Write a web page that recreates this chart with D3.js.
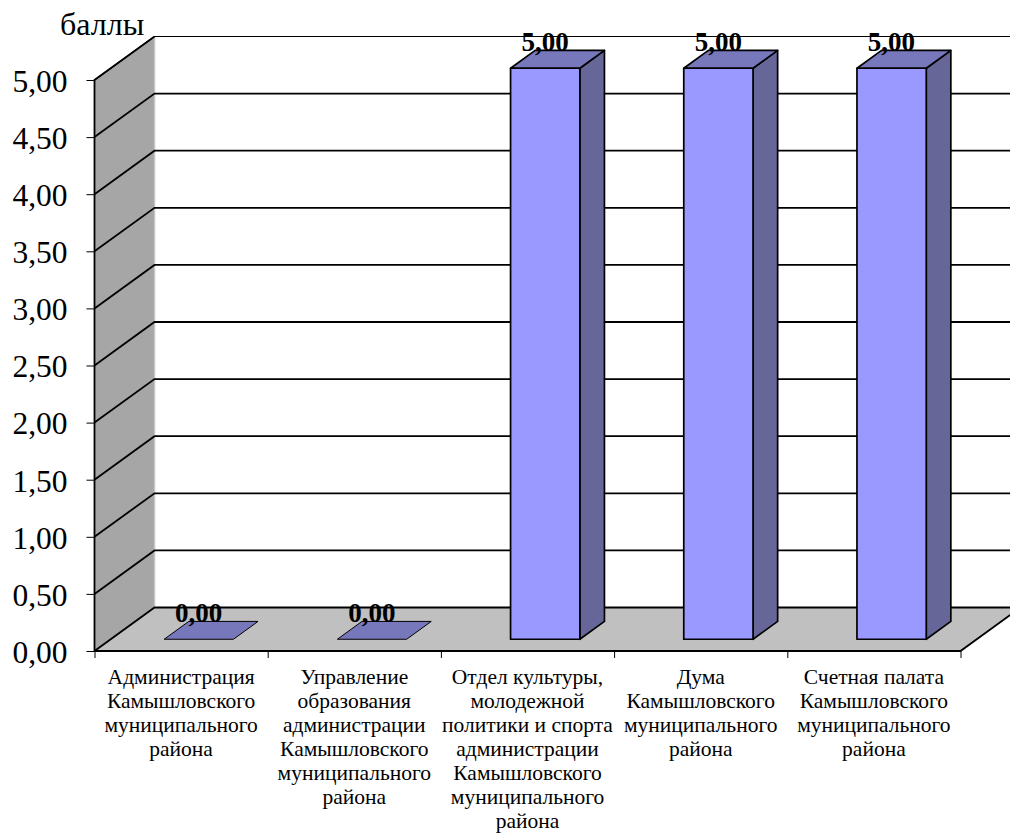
<!DOCTYPE html>
<html>
<head>
<meta charset="utf-8">
<script src="https://cdn.jsdelivr.net/npm/d3@7"></script>
<style>
html,body{margin:0;padding:0;background:#fff;overflow:hidden}
text{font-family:"Liberation Serif",serif;fill:#000}
</style>
</head>
<body>
<script>
var categories = [
  ['Администрация','Камышловского','муниципального','района'],
  ['Управление','образования','администрации','Камышловского','муниципального','района'],
  ['Отдел культуры,','молодежной','политики и спорта','администрации','Камышловского','муниципального','района'],
  ['Дума','Камышловского','муниципального','района'],
  ['Счетная палата','Камышловского','муниципального','района']
];
var values = [0,0,5,5,5];
var yTicks = [0,0.5,1,1.5,2,2.5,3,3.5,4,4.5,5];
var yTitle = 'баллы';

var svg = d3.select('body').append('svg').attr('width',1010).attr('height',834);

var y = d3.scaleLinear().domain([0,5]).range([651,80]);
var x = d3.scaleBand().domain(d3.range(categories.length)).range([94.5,960.5]).paddingInner(0.6).paddingOuter(0.3);
var xEdge = d3.scaleLinear().domain([0,categories.length]).range([94.5,960.5]);

// depth offset of the 3d box, 0 = front, 1 = back wall
var depthX = 60, depthY = -43.5;
function p(px,py,d){ return [px+depthX*d, py+depthY*d]; }
function poly(pts){ return 'M'+pts.map(function(q){return q.join(',');}).join('L')+'Z'; }
var barFront = 0.27, barBack = 0.68;

// wall
svg.append('path').attr('d',poly([p(94.5,y(0),0),p(94.5,y(5),0),p(94.5,y(5),1),p(94.5,y(0),1)])).attr('fill','#a6a6a6');
svg.append('line').attr('x1',154.5).attr('x2',154.5).attr('y1',y(5)+depthY).attr('y2',y(0)+depthY).attr('stroke','#c4c4c4').attr('stroke-width',1.5);

// floor
svg.append('path').attr('d',poly([p(94.5,y(0),0),p(960.5,y(0),0),p(960.5,y(0),1),p(94.5,y(0),1)])).attr('fill','#c0c0c0');
svg.append('path').attr('d',poly([p(960.5,y(0),0),p(960.5,y(0),1),[1020,y(0)+depthY]])).attr('fill','#c0c0c0');

// grid lines
var grid = svg.append('g').attr('fill','none').attr('stroke','#000');
grid.selectAll('path').data(yTicks).enter().append('path')
  .attr('stroke-width',function(d){ return d==5 ? 1.2 : 1.8; })
  .attr('d',function(d){
    var a = p(94.5,y(d),0), b = p(94.5,y(d),1);
    return 'M'+a+'L'+b+'L1020,'+b[1];
  });

// floor edges
svg.append('path').attr('fill','none').attr('stroke','#000').attr('stroke-width',1.8)
  .attr('d','M'+p(960.5,y(0),1)+'L'+p(960.5,y(0),0)+'L'+p(94.5,y(0),0)+'L'+p(94.5,y(5),0)+'L'+p(94.5,y(5),1));

// axes
var yAxis = d3.axisLeft(y).tickValues(yTicks).tickSize(8).tickPadding(19)
  .tickFormat(function(d){ return d3.format('.2f')(d).replace('.',','); });
var yG = svg.append('g').attr('transform','translate(94.5,0)').call(yAxis);
yG.select('.domain').remove();
yG.selectAll('text').style('font-family','"Liberation Serif",serif').style('font-size','31.5px').attr('dy','0.36em');
yG.selectAll('line').attr('stroke-width',1);

var xAxis = d3.axisBottom(xEdge).tickValues(d3.range(categories.length+1)).tickSize(7).tickFormat('');
var xG = svg.append('g').attr('transform','translate(0,651)').call(xAxis);
xG.select('.domain').remove();

// bars
var bars = svg.append('g').selectAll('g').data(values).enter().append('g');
bars.each(function(d,i){
  var g = d3.select(this), x0 = x(i)+1.5, x1 = x0+x.bandwidth(), top = y(d), bot = y(0);
  var st = {stroke:'#000',w:1.7};
  if(d>0){
    g.append('path').attr('d',poly([p(x1,bot,barFront),p(x1,top,barFront),p(x1,top,barBack),p(x1,bot,barBack)]))
      .attr('fill','#666699').attr('stroke',st.stroke).attr('stroke-width',st.w).attr('stroke-linejoin','round');
  }
  g.append('path').attr('d',poly([p(x0,top,barFront),p(x1,top,barFront),p(x1,top,barBack),p(x0,top,barBack)]))
    .attr('fill','#7777bb').attr('stroke',st.stroke).attr('stroke-width',d>0?st.w:1).attr('stroke-linejoin','round');
  if(d>0){
    g.append('path').attr('d',poly([p(x0,bot,barFront),p(x1,bot,barFront),p(x1,top,barFront),p(x0,top,barFront)]))
      .attr('fill','#9999ff').attr('stroke',st.stroke).attr('stroke-width',st.w).attr('stroke-linejoin','round');
  }
  g.append('text').attr('x',p(x0,0,barFront)[0]+34.5).attr('y',p(0,top,barBack)[1]+1)
    .attr('text-anchor','middle').style('font-size','27px').style('font-weight','bold')
    .text(d3.format('.2f')(d).replace('.',','));
});

// category labels
var labels = svg.append('g').selectAll('text').data(categories).enter().append('text')
  .attr('text-anchor','middle').style('font-size','21.5px')
  .attr('transform',function(d,i){ return 'translate('+(xEdge(i)+xEdge(i+1))/2+',684)'; });
labels.selectAll('tspan').data(function(d){ return d; }).enter().append('tspan')
  .attr('x',0).attr('y',function(d,i){ return i*24; }).text(function(d){ return d; });

svg.append('text').attr('x',60).attr('y',35).style('font-size','32px').text(yTitle);
</script>
</body>
</html>
